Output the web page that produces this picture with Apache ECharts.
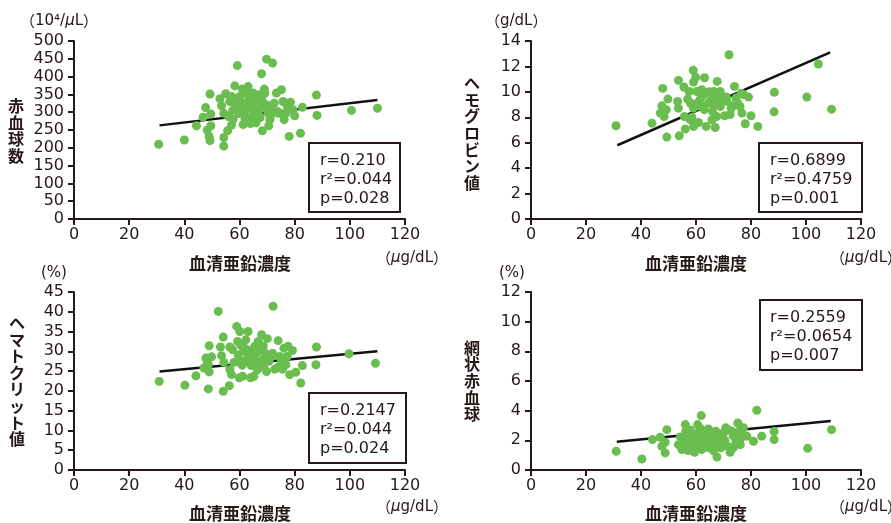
<!DOCTYPE html>
<html><head><meta charset="utf-8">
<script src="https://cdn.jsdelivr.net/npm/echarts@6/dist/echarts.min.js"></script>
<style>html,body{margin:0;padding:0;background:#fff;}#c{width:891px;height:523px;}</style>
</head><body><div id="c"></div>
<script>
// ---- data ----
const xTicks = {min: 0, max: 120, interval: 20};
const yRbcAxis = {min: 0, max: 500, interval: 50};
const yHbAxis = {min: 0, max: 14, interval: 2};
const yHctAxis = {min: 0, max: 45, interval: 5};
const yRetAxis = {min: 0, max: 12, interval: 2};

const rbcPoints = [[30.7,210],[40,222],[44.4,262],[46.8,286],[47.7,313],[48.3,250],[49.3,351],[49.6,295],[49.6,262],[49,232],[49.3,220],[52.9,338],[53.5,318],[54.3,297],[54.3,229],[54.3,205],[55,352],[55.7,248],[56,288],[56.5,330],[57.1,264],[57.1,344],[57.5,305],[57.7,280],[58.3,374],[58.5,320],[59.2,431],[59,338],[59.2,311],[59.9,297],[60,318],[60.1,344],[61,365],[61.3,265],[61.5,300],[61.9,325],[62,280],[62.5,311],[62.5,354],[63.1,372],[63.4,344],[63.7,286],[64,268],[64.5,335],[64.9,297],[64.9,354],[65,320],[65.6,311],[65.9,279],[66,270],[66.2,335],[66.8,297],[67,310],[67.1,349],[67.5,285],[68,408],[68,340],[68.3,248],[68.6,325],[69,365],[69.2,354],[69.5,310],[69.8,449],[70,320],[70.4,297],[70.6,262],[71,279],[71.2,288],[71.5,305],[72,438],[72.6,325],[73.4,354],[73.8,302],[74.1,297],[75.2,363],[75.8,330],[76.2,279],[76.8,297],[77.3,316],[78,232],[78.5,328],[79.4,307],[80,290],[82.1,241],[82.8,314],[87.9,348],[88.1,291],[100.6,305],[110,311]];
const rbcFit = [[31,263],[110,334]];

const hbPoints = [[30.9,7.33],[44,7.54],[47.9,10.27],[47.6,8.9],[47,8.33],[48.4,8.06],[49.2,8.59],[49.8,9.43],[49.4,6.44],[53.6,10.9],[53.3,9.25],[53.6,8.72],[53.9,6.54],[55.6,10.38],[56.1,7.07],[55.8,8.06],[57,9.43],[57.5,10.03],[57.9,7.8],[58.5,8.0],[59,11.69],[59.1,10.77],[59.9,11.14],[59.1,8.72],[59.1,7.28],[60.3,10.03],[60.3,9.11],[60.9,7.59],[61.5,9.38],[62.1,10.17],[62.1,8.85],[63.1,11.11],[63.3,9.9],[63.7,7.28],[64.5,9.11],[65.5,9.38],[65.8,7.8],[66,8.46],[66.4,10.03],[67,7.2],[67.5,8.06],[67.7,10.82],[68.2,9.64],[68.8,10.03],[68.8,8.85],[69.4,9.38],[70.4,8.12],[71.2,9.25],[72,12.92],[72.4,8.22],[72.8,8.72],[74,10.43],[74.5,9.51],[75.2,9.11],[76,8.85],[76.4,9.9],[76.7,8.33],[77.3,9.77],[77.9,7.49],[79.1,9.59],[80,8.12],[82.5,7.28],[88.5,9.96],[88.4,8.43],[100.3,9.59],[104.5,12.19],[109.3,8.64],[61,8.9],[63,8.6],[64.8,10.0],[66.5,9.0],[69,9.2],[71,9.6],[73.5,8.9],[58,9.1],[62.5,9.7]];
const hbFit = [[31.4,5.8],[108.8,13.1]];

const hctPoints = [[30.9,22.4],[40.2,21.4],[44.2,23.8],[47.1,25.8],[47.8,28.3],[48.3,27.5],[48.7,20.5],[49,31.4],[49,24.8],[49.9,28.6],[48.7,26.6],[52.3,40.1],[53.1,31.1],[53.5,28.9],[54.1,33.6],[54.1,19.9],[54.3,27.2],[56.3,21.3],[56.5,25.4],[57.1,24.1],[56.5,31.1],[57.5,30.4],[59,36.3],[59.3,32.5],[59.5,29.1],[59.9,23.3],[60.1,35],[60.4,27.5],[61.1,23.7],[61.3,30],[61.9,30.8],[62.3,32.9],[62.5,27.5],[63.1,35],[63.5,30.3],[64,23.3],[64.3,26.4],[64.7,28.7],[65.2,23.7],[65.6,31.3],[65.9,27.5],[66.2,29.6],[66.8,32.5],[67.4,26.2],[68,34.2],[68.3,27.9],[68.6,31.3],[69.2,29.6],[69.8,24.9],[70.1,33.2],[70.7,27.5],[71.6,28.7],[72.2,41.4],[72.8,25.5],[74,32.7],[74.6,28.7],[75.2,27.5],[75.6,25.5],[76.1,30.8],[76.8,26.6],[77.3,28.7],[77.6,31.3],[78.2,24.1],[79.2,30.2],[80.4,24.7],[82.2,22],[82.8,26.4],[87.9,31.1],[87.7,26.6],[99.7,29.4],[109.3,27],[58,27.2],[61,26.5],[63,28.5],[66.5,25.3],[69,26.8],[72,29.5],[74,26.0],[67,30.8],[60.5,31.6]];
const hctFit = [[31,24.9],[110,30.0]];

const retPoints = [[31,1.26],[40.3,0.74],[44.2,2.05],[47,2.21],[47.6,1.6],[48.8,1.87],[48.8,1.15],[49.4,2.72],[53.6,1.71],[54.3,2.23],[54.9,1.37],[56.1,3.06],[56.3,2.61],[56.7,1.94],[57.1,1.31],[57.5,2.28],[58.3,1.71],[58.7,2.05],[59.5,1.19],[60,1.6],[60.6,3.06],[60.9,2.5],[61.5,1.94],[61.9,3.67],[62.1,1.37],[62.7,2.34],[63.3,2.61],[63.9,1.71],[64.5,2.77],[65.1,2.05],[65.8,1.6],[66.1,2.39],[66.7,1.82],[67.2,2.61],[67.6,0.88],[67.9,2.28],[68.4,1.94],[69,1.49],[70,2.5],[70.8,2.84],[71.6,2.72],[72.4,1.19],[73,2.61],[73.6,1.49],[74.5,1.87],[75.2,3.17],[75.7,2.61],[76.1,1.71],[76.4,2.16],[77.3,2.84],[78.5,2.28],[80.9,1.94],[82.1,4.03],[83.9,2.28],[88.4,2.59],[88.4,2.05],[100.6,1.46],[109.3,2.72],[55.5,2.0],[56.5,1.6],[57.8,2.4],[58.5,1.4],[59.2,2.2],[60.3,1.9],[61.2,1.5],[62,2.1],[63,1.8],[64,2.4],[64.8,1.5],[65.5,2.2],[66.4,1.3],[67,2.0],[68.8,2.3],[69.5,1.7],[70.5,2.0],[71.5,1.6],[73.5,2.3],[74.8,2.0],[76.8,2.4],[58,2.7],[61.5,2.8],[66,1.7]];
const retFit = [[31.2,1.9],[109,3.3]];

const statsRbc = ['r=0.210', 'r²=0.044', 'p=0.028'];
const statsHb = ['r=0.6899', 'r²=0.4759', 'p=0.001'];
const statsHct = ['r=0.2147', 'r²=0.044', 'p=0.024'];
const statsRet = ['r=0.2559', 'r²=0.0654', 'p=0.007'];

const yNames = ['赤血球数', 'ヘモグロビン値', 'ヘマトクリット値', '網状赤血球'];
const xName = '血清亜鉛濃度';

// ---- style ----
const INK = '#231815';
const GREEN = '#6abd4f';
const NUM_FONT = '"DejaVu Sans", "Liberation Sans", Arial, sans-serif';
const JP_FONT = '"Noto Sans CJK JP", sans-serif';

const grids = [
  {left: 74, top: 41, width: 331, height: 178},
  {left: 531, top: 41, width: 330, height: 178},
  {left: 74, top: 292, width: 331, height: 178},
  {left: 531, top: 292, width: 330, height: 178}
];
const yAxesCfg = [yRbcAxis, yHbAxis, yHctAxis, yRetAxis];
const pointSets = [rbcPoints, hbPoints, hctPoints, retPoints];
const fits = [rbcFit, hbFit, hctFit, retFit];

const axisCommon = {
  axisLine: {show: true, lineStyle: {color: INK, width: 2}},
  axisTick: {show: true, length: 6, lineStyle: {color: INK, width: 2}},
  splitLine: {show: false},
  axisLabel: {color: INK, fontSize: 16, fontFamily: NUM_FONT}
};

const xAxis = grids.map((g, i) => Object.assign({}, axisCommon, {
  type: 'value', gridIndex: i, min: xTicks.min, max: xTicks.max, interval: xTicks.interval,
  axisLabel: Object.assign({}, axisCommon.axisLabel, {margin: 8})
}));
const yAxis = grids.map((g, i) => Object.assign({}, axisCommon, {
  type: 'value', gridIndex: i, min: yAxesCfg[i].min, max: yAxesCfg[i].max, interval: yAxesCfg[i].interval,
  axisLabel: Object.assign({}, axisCommon.axisLabel, {margin: 10})
}));

const series = [];
pointSets.forEach((pts, i) => {
  series.push({type: 'scatter', xAxisIndex: i, yAxisIndex: i, data: pts, symbolSize: 9,
    itemStyle: {color: GREEN, opacity: 1}, z: 3, silent: true});
  series.push({type: 'line', xAxisIndex: i, yAxisIndex: i, data: fits[i], symbol: 'none',
    lineStyle: {color: '#111', width: 2.5}, z: 2, silent: true});
});

// ---- annotations ----
const graphic = [];
function txt(x, y, text, font, align, extra) {
  graphic.push({type: 'text', x: x, y: y, z: 10, silent: true,
    style: Object.assign({text: text, font: font, fill: INK, textAlign: align || 'center', textVerticalAlign: 'middle'}, extra || {})});
}
function box(x, y, w, h, lines, tx, ty) {
  graphic.push({type: 'rect', z: 9, silent: true, shape: {x: x, y: y, width: w, height: h},
    style: {fill: '#fff', stroke: INK, lineWidth: 2}});
  txt(tx, ty, lines.join('\n'), '16px ' + NUM_FONT, 'left', {lineHeight: 19});
}
box(309, 143, 91, 69, statsRbc, 320, 180);
box(759, 143, 103, 69, statsHb, 770, 180);
box(309, 393, 97, 70, statsHct, 320, 430);
box(760, 300, 102, 70, statsRet, 770, 337);

// y-axis vertical names
const vert = s => s.split('').join('\n');
const yNamePos = [[16, 131], [472, 133], [17, 381], [472, 381]];
yNames.forEach((n, i) => txt(yNamePos[i][0], yNamePos[i][1], vert(n), 'bold 16px ' + JP_FONT, 'center', {lineHeight: 16.6}));

// x-axis names
[[240, 264], [696, 264], [240, 514], [696, 514]].forEach(p => txt(p[0], p[1], xName, 'bold 17px ' + JP_FONT, 'center'));

// units
const unitRich = {
  n: {fontFamily: NUM_FONT, fontSize: 15, fill: INK},
  jp: {fontFamily: JP_FONT, fontSize: 15, fill: INK},
  it: {fontFamily: NUM_FONT, fontSize: 15, fontStyle: 'italic', fill: INK}
};
function unit(x, y, s) {
  graphic.push({type: 'text', x: x, y: y, z: 10, silent: true,
    style: {text: s, rich: unitRich, fill: INK, textAlign: 'left', textVerticalAlign: 'middle', font: '15px ' + NUM_FONT}});
}
unit(376, 258, '{jp|（}{it|μ}{n|g/dL}{jp|）}');
unit(830, 258, '{jp|（}{it|μ}{n|g/dL}{jp|）}');
unit(376, 507, '{jp|（}{it|μ}{n|g/dL}{jp|）}');
unit(830, 507, '{jp|（}{it|μ}{n|g/dL}{jp|）}');
unit(20, 21, '{jp|（}{n|10⁴/}{it|μ}{n|L}{jp|）}');
unit(485, 21, '{jp|（}{n|g/dL}{jp|）}');
unit(41, 273, '{n|(%)}');
unit(499, 273, '{n|(%)}');

const chart = echarts.init(document.getElementById('c'), null, {renderer: 'canvas'});
chart.setOption({
  animation: false,
  backgroundColor: '#fff',
  grid: grids,
  xAxis: xAxis,
  yAxis: yAxis,
  series: series,
  graphic: graphic
});
</script>
</body></html>
